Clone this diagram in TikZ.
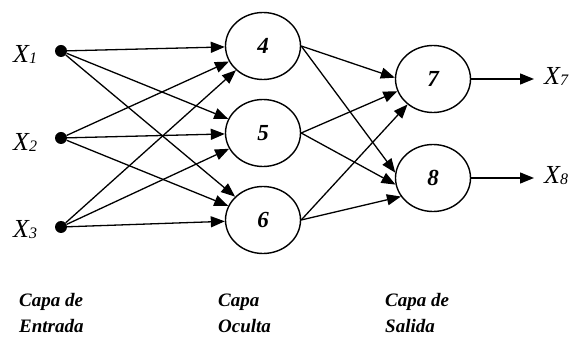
\documentclass[tikz,border=0pt]{standalone}
\usepackage{fontspec}
\setmainfont{Liberation Serif}
\usetikzlibrary{arrows.meta,shapes.geometric}
\begin{document}
\begin{tikzpicture}[x=1pt,y=-1pt,
  neuron/.style={draw,ellipse,line width=1.4pt,minimum width=75pt,minimum height=67pt,inner sep=0pt,
    font=\fontsize{23}{27}\selectfont\bfseries\itshape},
  dotnode/.style={circle,fill,inner sep=0pt,minimum size=12pt},
  arr/.style={line width=1.3pt,-{Triangle[length=14pt,width=11pt]}},
  xlab/.style={anchor=base west,inner sep=0pt,font=\fontsize{26}{30}\selectfont\itshape},
  layer/.style={anchor=base west,inner sep=0pt,font=\fontsize{19}{23}\selectfont\bfseries\itshape}]
\useasboundingbox (0,0) rectangle (570,344);
% input dots
\node[dotnode] (x1) at (61,51) {};
\node[dotnode] (x2) at (61,138) {};
\node[dotnode] (x3) at (61,227) {};
\node[xlab] (lx1) at (13,63) {X\raisebox{-1pt}{\fontsize{16}{16}\selectfont 1}};
\node[xlab] (lx2) at (13,151) {X\raisebox{-1pt}{\fontsize{16}{16}\selectfont 2}};
\node[xlab] (lx3) at (13,238) {X\raisebox{-1pt}{\fontsize{16}{16}\selectfont 3}};
% hidden
\node[neuron] (h4) at (263,46) {4};
\node[neuron] (h5) at (263,133) {5};
\node[neuron] (h6) at (263,220) {6};
% output
\node[neuron] (o7) at (433,79) {7};
\node[neuron] (o8) at (433,178) {8};
% input -> hidden
\foreach \i in {x1,x2,x3}{
  \foreach \h in {h4,h5,h6}{
    \draw[arr] (\i) -- (\h);
  }
}
% hidden -> output
\draw[arr] (h4.east) -- (o7.178);
\draw[arr] (h5.east) -- (o7.199);
\draw[arr] (h6.east) -- (o7.225);
\draw[arr] (h4.east) -- (o8.172);
\draw[arr] (h5.east) -- (o8.190);
\draw[arr] (h6.east) -- (o8.210);
% outputs
\coordinate (e7) at (534,79);
\coordinate (e8) at (534,178);
\draw[arr] (o7.east) -- (e7);
\draw[arr] (o8.east) -- (e8);
\node[xlab] (lx7) at (544,85) {X\raisebox{-1pt}{\fontsize{16}{16}\selectfont 7}};
\node[xlab] (lx8) at (544,184) {X\raisebox{-1pt}{\fontsize{16}{16}\selectfont 8}};
% layer labels
\node[layer] (l1a) at (19,307) {Capa de};
\node[layer] (l1b) at (19,333) {Entrada};
\node[layer] (l2a) at (218,307) {Capa};
\node[layer] (l2b) at (218,333) {Oculta};
\node[layer] (l3a) at (385,307) {Capa de};
\node[layer] (l3b) at (385,333) {Salida};
\end{tikzpicture}
\end{document}
